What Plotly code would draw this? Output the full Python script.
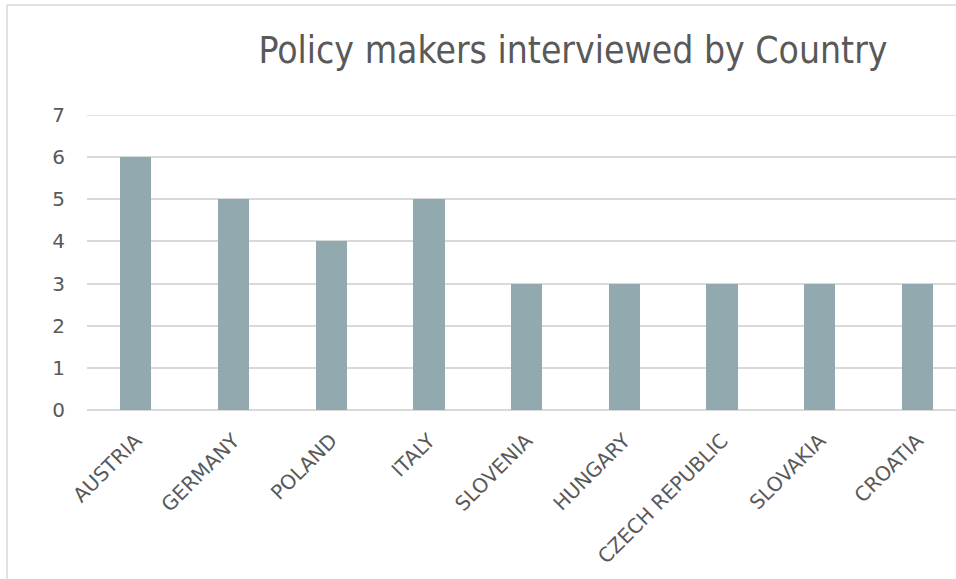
import plotly.graph_objects as go

countries = ["AUSTRIA", "GERMANY", "POLAND", "ITALY", "SLOVENIA", "HUNGARY",
             "CZECH REPUBLIC", "SLOVAKIA", "CROATIA"]
interviewed = [6, 5, 4, 5, 3, 3, 3, 3, 3]
y_ticks = [0, 1, 2, 3, 4, 5, 6, 7]
title_text = "Policy makers interviewed by Country"

W, H = 956, 579
L, T, R, B = 87, 115, 0, 169
pw = W - L - R
ph = H - T - B

TFONT = "DejaVu Sans Condensed, Liberation Sans Narrow, DejaVu Sans, sans-serif"
FONT = "DejaVu Sans, sans-serif"

fig = go.Figure(go.Bar(
    x=countries, y=interviewed,
    marker=dict(color="#92A9AF", line=dict(width=0)),
    width=0.32,
))

fig.update_layout(
    width=W, height=H,
    margin=dict(l=L, r=R, t=T, b=B, pad=0),
    paper_bgcolor="white", plot_bgcolor="white",
    showlegend=False,
    font=dict(family=FONT, color="#595959", size=20),
    title=dict(text=title_text, x=573 / W, xanchor="center",
               y=1 - 50 / H, yanchor="middle", xref="container", yref="container",
               font=dict(family=TFONT, size=37, color="#595959")),
    bargap=0,
)
fig.update_xaxes(range=[-0.5, -0.5 + pw / 97.7], tickangle=-45, showgrid=False,
                 showline=False, ticks="", ticklabelstandoff=14,
                 tickfont=dict(family=FONT, size=20, color="#595959"),
                 fixedrange=True)
fig.update_yaxes(range=[0, max(y_ticks)], tickvals=y_ticks, showgrid=True,
                 gridcolor="#D9D9D9", gridwidth=1.5, zeroline=True,
                 zerolinecolor="#D9D9D9", zerolinewidth=1.5,
                 showline=False, ticks="", ticklabelstandoff=21,
                 tickfont=dict(family=FONT, size=20, color="#595959"))

# top gridline (at the edge of the range)
fig.add_shape(type="line", xref="paper", yref="y", x0=0, x1=1,
              y0=max(y_ticks), y1=max(y_ticks), layer="below",
              line=dict(color="#D9D9D9", width=1.5))

# outer chart border (partially visible)
bx = (7 - L) / pw
by = 1 + (T - 5) / ph
fig.add_shape(type="line", xref="paper", yref="paper", x0=bx, x1=bx, y0=-10, y1=by,
              line=dict(color="#D9D9D9", width=1.5))
fig.add_shape(type="line", xref="paper", yref="paper", x0=bx, x1=2, y0=by, y1=by,
              line=dict(color="#D9D9D9", width=1.5))

fig.write_html("out.html")
